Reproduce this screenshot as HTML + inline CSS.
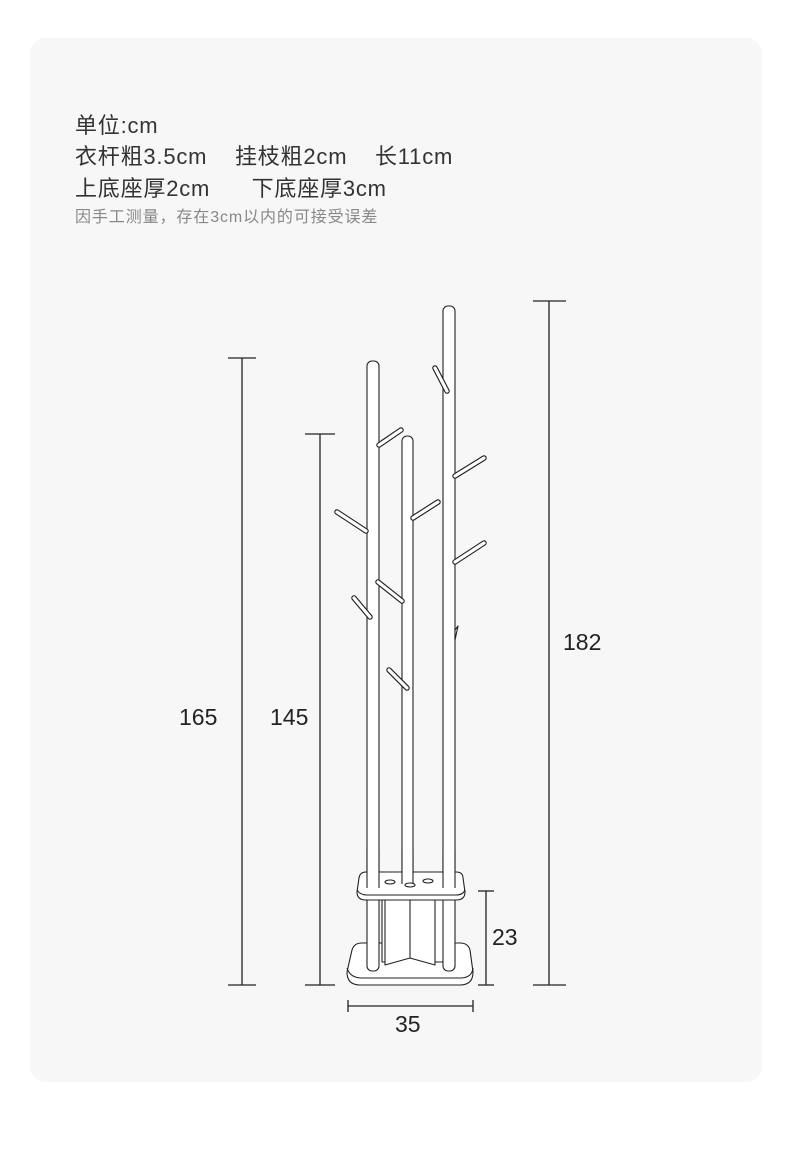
<!DOCTYPE html>
<html><head><meta charset="utf-8"><style>
html,body{margin:0;padding:0;background:#fff;}
body{width:790px;height:1160px;position:relative;overflow:hidden;font-family:"Liberation Sans","Noto Sans CJK SC",sans-serif;}
.card{position:absolute;left:30px;top:38px;width:732px;height:1044px;background:#f7f7f7;border-radius:16px;}
.t{position:absolute;left:75px;color:#333;font-size:22px;letter-spacing:0.8px;white-space:pre;line-height:1;}
.s{position:absolute;left:75px;color:#888;font-size:16px;letter-spacing:0.9px;white-space:pre;line-height:1;}
svg{position:absolute;left:0;top:0;}
</style></head><body>
<div class="card"></div>
<div class="t" style="top:115px">单位:cm</div>
<div class="t" style="top:146px">衣杆粗3.5cm    挂枝粗2cm    长11cm</div>
<div class="t" style="top:178px">上底座厚2cm      下底座厚3cm</div>
<div class="s" style="top:210px">因手工测量，存在3cm以内的可接受误差</div>
<svg width="790" height="1160" viewBox="0 0 790 1160" font-family="Liberation Sans, sans-serif" font-size="23" fill="#222">
<g stroke="#222" stroke-width="1.3" fill="none">
<line x1="242" y1="358" x2="242" y2="985"/><line x1="228" y1="358" x2="256" y2="358"/><line x1="228" y1="985" x2="256" y2="985"/>
<line x1="320" y1="434" x2="320" y2="985"/><line x1="305" y1="434" x2="335" y2="434"/><line x1="305" y1="985" x2="335" y2="985"/>
<line x1="549" y1="301" x2="549" y2="985"/><line x1="533" y1="301" x2="566" y2="301"/><line x1="533" y1="985" x2="566" y2="985"/>
<line x1="486" y1="891" x2="486" y2="985"/><line x1="478" y1="891" x2="494" y2="891"/><line x1="478" y1="985" x2="494" y2="985"/>
<line x1="348" y1="1006" x2="473" y2="1006"/><line x1="348" y1="1000" x2="348" y2="1012"/><line x1="473" y1="1000" x2="473" y2="1012"/>
</g>
<text x="179" y="725">165</text><text x="270" y="725">145</text><text x="563" y="650">182</text><text x="492" y="945">23</text><text x="395" y="1032">35</text>
<g stroke="#222" stroke-width="1.1" fill="#fff" stroke-linejoin="round">
<path d="M352 950 Q354 943 362 943 L460 943 Q468 943 470 950 L473 972 Q473 985 460 985 L360 985 Q347 985 347 972 Z"/>
<path d="M347 968 Q350 978 362 978 L460 978 Q472 978 473 968" fill="none"/>
<rect x="382" y="900" width="12" height="62"/><rect x="434" y="900" width="12" height="62"/>
<path d="M385 900 L385 965 L410 958 L435 965 L435 900"/>
<line x1="410" y1="900" x2="410" y2="958"/>
<rect x="367" y="361" width="12" height="610" rx="5"/>
<rect x="443" y="306" width="12" height="665" rx="5"/>
<rect x="402" y="436" width="11" height="450" rx="5"/>
<path d="M359 878 Q360 872 366 872 L456 872 Q463 872 463 878 L465 892 Q465 900 456 900 L366 900 Q357 900 357 892 Z"/>
<path d="M357 890 Q360 895 367 895 L456 895 Q463 895 465 890" fill="none"/>
<ellipse cx="390" cy="882" rx="5" ry="2"/><ellipse cx="410" cy="885" rx="5" ry="2"/><ellipse cx="428" cy="881" rx="5" ry="2"/>
<rect x="367" y="850" width="12" height="30" stroke="none"/><line x1="367" y1="850" x2="367" y2="888"/><line x1="379" y1="850" x2="379" y2="888"/>
<rect x="443" y="850" width="12" height="30" stroke="none"/><line x1="443" y1="850" x2="443" y2="888"/><line x1="455" y1="850" x2="455" y2="888"/>
<rect x="402" y="850" width="11" height="30" stroke="none"/><line x1="402" y1="850" x2="402" y2="884"/><line x1="413" y1="850" x2="413" y2="884"/>
<g stroke-width="5.5" stroke-linecap="round" stroke="#222"><line x1="379" y1="445" x2="401" y2="430"/><line x1="413" y1="518" x2="438" y2="502"/><line x1="366" y1="531" x2="337" y2="512"/><line x1="354" y1="598" x2="370" y2="617"/><line x1="389" y1="670" x2="407" y2="688"/><line x1="435" y1="368" x2="447" y2="391"/><line x1="455" y1="476" x2="484" y2="458"/><line x1="455" y1="562" x2="484" y2="543"/><line x1="378" y1="582" x2="402" y2="601"/></g>
<g stroke-width="3.2" stroke-linecap="round" stroke="#fff"><line x1="379" y1="445" x2="401" y2="430"/><line x1="413" y1="518" x2="438" y2="502"/><line x1="366" y1="531" x2="337" y2="512"/><line x1="354" y1="598" x2="370" y2="617"/><line x1="389" y1="670" x2="407" y2="688"/><line x1="435" y1="368" x2="447" y2="391"/><line x1="455" y1="476" x2="484" y2="458"/><line x1="455" y1="562" x2="484" y2="543"/><line x1="378" y1="582" x2="402" y2="601"/></g>
<path d="M455 640 L455 630 L458 626 Z"/>
</g>
</svg>
</body></html>
